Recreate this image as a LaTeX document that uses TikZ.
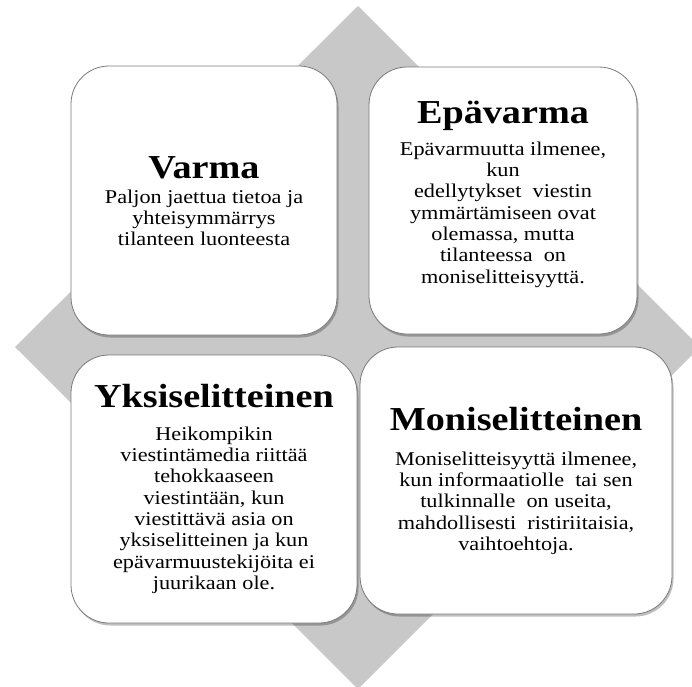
\documentclass[tikz,border=0pt]{standalone}
\usepackage{fontspec}
\setmainfont[FakeStretch=1.14]{Liberation Serif}
\usetikzlibrary{shadows}
\definecolor{diam}{HTML}{C8C8C8}
\definecolor{edgec}{HTML}{7A7A7A}
\tikzset{
 card/.style={draw=edgec, line width=0.8pt, fill=white, rounded corners=38pt, inner sep=0pt,
   drop shadow={shadow xshift=1.5pt, shadow yshift=-2.5pt, opacity=0.25, fill=black}},
 ttl/.style={anchor=base, inner sep=0pt, font=\fontsize{33.5}{36}\selectfont\bfseries},
 bodytext/.style={anchor=north, inner sep=0pt, align=center, font=\fontsize{19.5}{21.3}\selectfont},
}
\newcommand\bstrut{\rule{0pt}{15pt}}
\begin{document}
\begin{tikzpicture}[x=1pt,y=-1pt]
\useasboundingbox (0,0) rectangle (692,686);
\fill[diam] (358,6) -- (700,347) -- (358,689) -- (15,347) -- cycle;
\node[card, minimum width=266pt, minimum height=269pt] (tl) at (204,200.5) {};
\node[card, minimum width=268pt, minimum height=267pt] (tr) at (503,200.5) {};
\node[card, minimum width=286pt, minimum height=268pt] (bl) at (214,489) {};
\node[card, minimum width=312pt, minimum height=267pt] (br) at (516,480.5) {};
\node[ttl] (tlt) at (204,178) {Varma};
\node[bodytext] (tlb) at (204,188) {\bstrut Paljon jaettua tietoa ja\\yhteisymmärrys\\tilanteen luonteesta};
\node[ttl] (trt) at (503,123) {Epävarma};
\node[bodytext] (trb) at (503,140) {\bstrut Epävarmuutta ilmenee,\\kun\\edellytykset\ \ viestin\\ymmärtämiseen ovat\\olemassa, mutta\\tilanteessa\ \ on\\moniselitteisyyttä.};
\node[ttl] (blt) at (214,407) {Yksiselitteinen};
\node[bodytext] (blb) at (214,425) {\bstrut Heikompikin\\viestintämedia riittää\\tehokkaaseen\\viestintään, kun\\viestittävä asia on\\yksiselitteinen ja kun\\epävarmuustekijöita ei\\juurikaan ole.};
\node[ttl] (brt) at (516,430) {Moniselitteinen};
\node[bodytext] (brb) at (516,450) {\bstrut Moniselitteisyyttä ilmenee,\\kun informaatiolle\ \ tai sen\\tulkinnalle\ \ on useita,\\mahdollisesti\ \ ristiriitaisia,\\vaihtoehtoja.};
\end{tikzpicture}
\end{document}
